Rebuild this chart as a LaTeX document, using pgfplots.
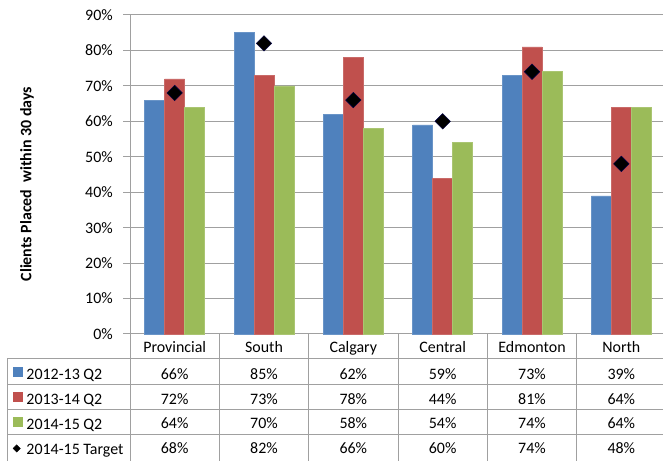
\documentclass[border=0pt]{standalone}
\usepackage{pgfplots}
\pgfplotsset{compat=1.18}
\usepackage{fontspec}
\setmainfont{Carlito}
\definecolor{cblue}{HTML}{4F81BD}
\definecolor{cred}{HTML}{C0504D}
\definecolor{cgreen}{HTML}{9BBB59}
\definecolor{gridc}{HTML}{A0A0A0}
\newcommand{\tf}{\fontsize{16}{19}\selectfont}
\begin{document}
\begin{tikzpicture}[x=1bp,y=1bp,font=\tf]
\useasboundingbox (0,0) rectangle (663,461);
\begin{axis}[
  at={(130bp,127bp)}, anchor=south west,
  scale only axis, width=536bp, height=319bp,
  xmin=-0.5, xmax=5.5, ymin=0, ymax=90,
  clip=false,
  axis x line=bottom, axis y line=left,
  axis line style={draw=gridc, line width=1bp, -},
  ytick={0,10,...,90},
  yticklabel={\pgfmathprintnumber{\tick}\%},
  /pgf/number format/assume math mode=true,
  tick align=outside,
  major tick length=7bp,
  ytick style={draw=gridc, line width=1bp},
  ymajorgrids, grid style={draw=gridc, line width=1bp},
  yticklabel style={font=\tf, black, anchor=east, inner sep=0pt, xshift=-10bp},
  xtick={0,1,2,3,4,5},
  xticklabels={Provincial,South,Calgary,Central,Edmonton,North},
  xtick style={draw=none},
  xticklabel style={font=\tf, black, anchor=base, inner sep=0pt, yshift=-11.7bp},
  ylabel={Clients Placed\ \ within 30 days},
  ylabel style={at={(axis description cs:-0.1922,0.47)}, anchor=center, font=\fontsize{16}{19}\selectfont\bfseries},
  legend cell align=left,
  legend style={at={(axis description cs:-0.2295,-0.0893)}, anchor=north west,
    draw=none, fill=none, inner sep=0pt, outer sep=0pt, row sep=0pt, column sep=4bp,
    font=\tf,
    nodes={inner sep=0pt, minimum height=25bp, text height=10bp, text depth=1bp}},
]
\addplot[ybar, bar width=20bp, bar shift=-20bp, fill=cblue, draw=cblue!85!white, line width=0.5bp,
  legend image code/.code={\path (0,0); \fill[cblue] (6bp,-1.5bp) rectangle (15bp,7.5bp);}]
  coordinates {(0,66) (1,85) (2,62) (3,59) (4,73) (5,39)};
\addlegendentry{2012-13 Q2}
\addplot[ybar, bar width=20bp, bar shift=0bp, fill=cred, draw=cred!85!white, line width=0.5bp,
  legend image code/.code={\path (0,0); \fill[cred] (6bp,-1.5bp) rectangle (15bp,7.5bp);}]
  coordinates {(0,72) (1,73) (2,78) (3,44) (4,81) (5,64)};
\addlegendentry{2013-14 Q2}
\addplot[ybar, bar width=20bp, bar shift=20bp, fill=cgreen, draw=cgreen!85!white, line width=0.5bp,
  legend image code/.code={\path (0,0); \fill[cgreen] (6bp,-1.5bp) rectangle (15bp,7.5bp);}]
  coordinates {(0,64) (1,70) (2,58) (3,54) (4,74) (5,64)};
\addlegendentry{2014-15 Q2}
\addplot[only marks, mark=square*, mark size=5.5bp, mark options={rotate=45, fill=black, draw=black!70!blue, line width=0.4bp},
  legend image code/.code={\path (0,0); \fill[black] (9.5bp,5.2bp) -- (13.2bp,1.5bp) -- (9.5bp,-2.2bp) -- (5.8bp,1.5bp) -- cycle;}]
  coordinates {(0,68) (1,82) (2,66) (3,60) (4,74) (5,48)};
\addlegendentry{2014-15 Target}
\end{axis}
% data table grid
\begin{scope}[draw=gridc, line width=1bp]
\foreach \yy in {102,76,51,26} {\draw (7,\yy) -- (670,\yy);}
\draw (7,102) -- (7,-2);
\foreach \i in {0,...,6} {\draw ({130+89.333*\i},127) -- ({130+89.333*\i},-2);}
\end{scope}
% data table values
\begin{scope}[every node/.style={anchor=base, inner sep=0pt}]
\foreach \v [count=\i from 0] in {66,85,62,59,73,39} {\node at ({174.67+89.333*\i},81.5) {\v\%};}
\foreach \v [count=\i from 0] in {72,73,78,44,81,64} {\node at ({174.67+89.333*\i},56.7) {\v\%};}
\foreach \v [count=\i from 0] in {64,70,58,54,74,64} {\node at ({174.67+89.333*\i},32) {\v\%};}
\foreach \v [count=\i from 0] in {68,82,66,60,74,48} {\node at ({174.67+89.333*\i},7) {\v\%};}
\end{scope}
\end{tikzpicture}
\end{document}
